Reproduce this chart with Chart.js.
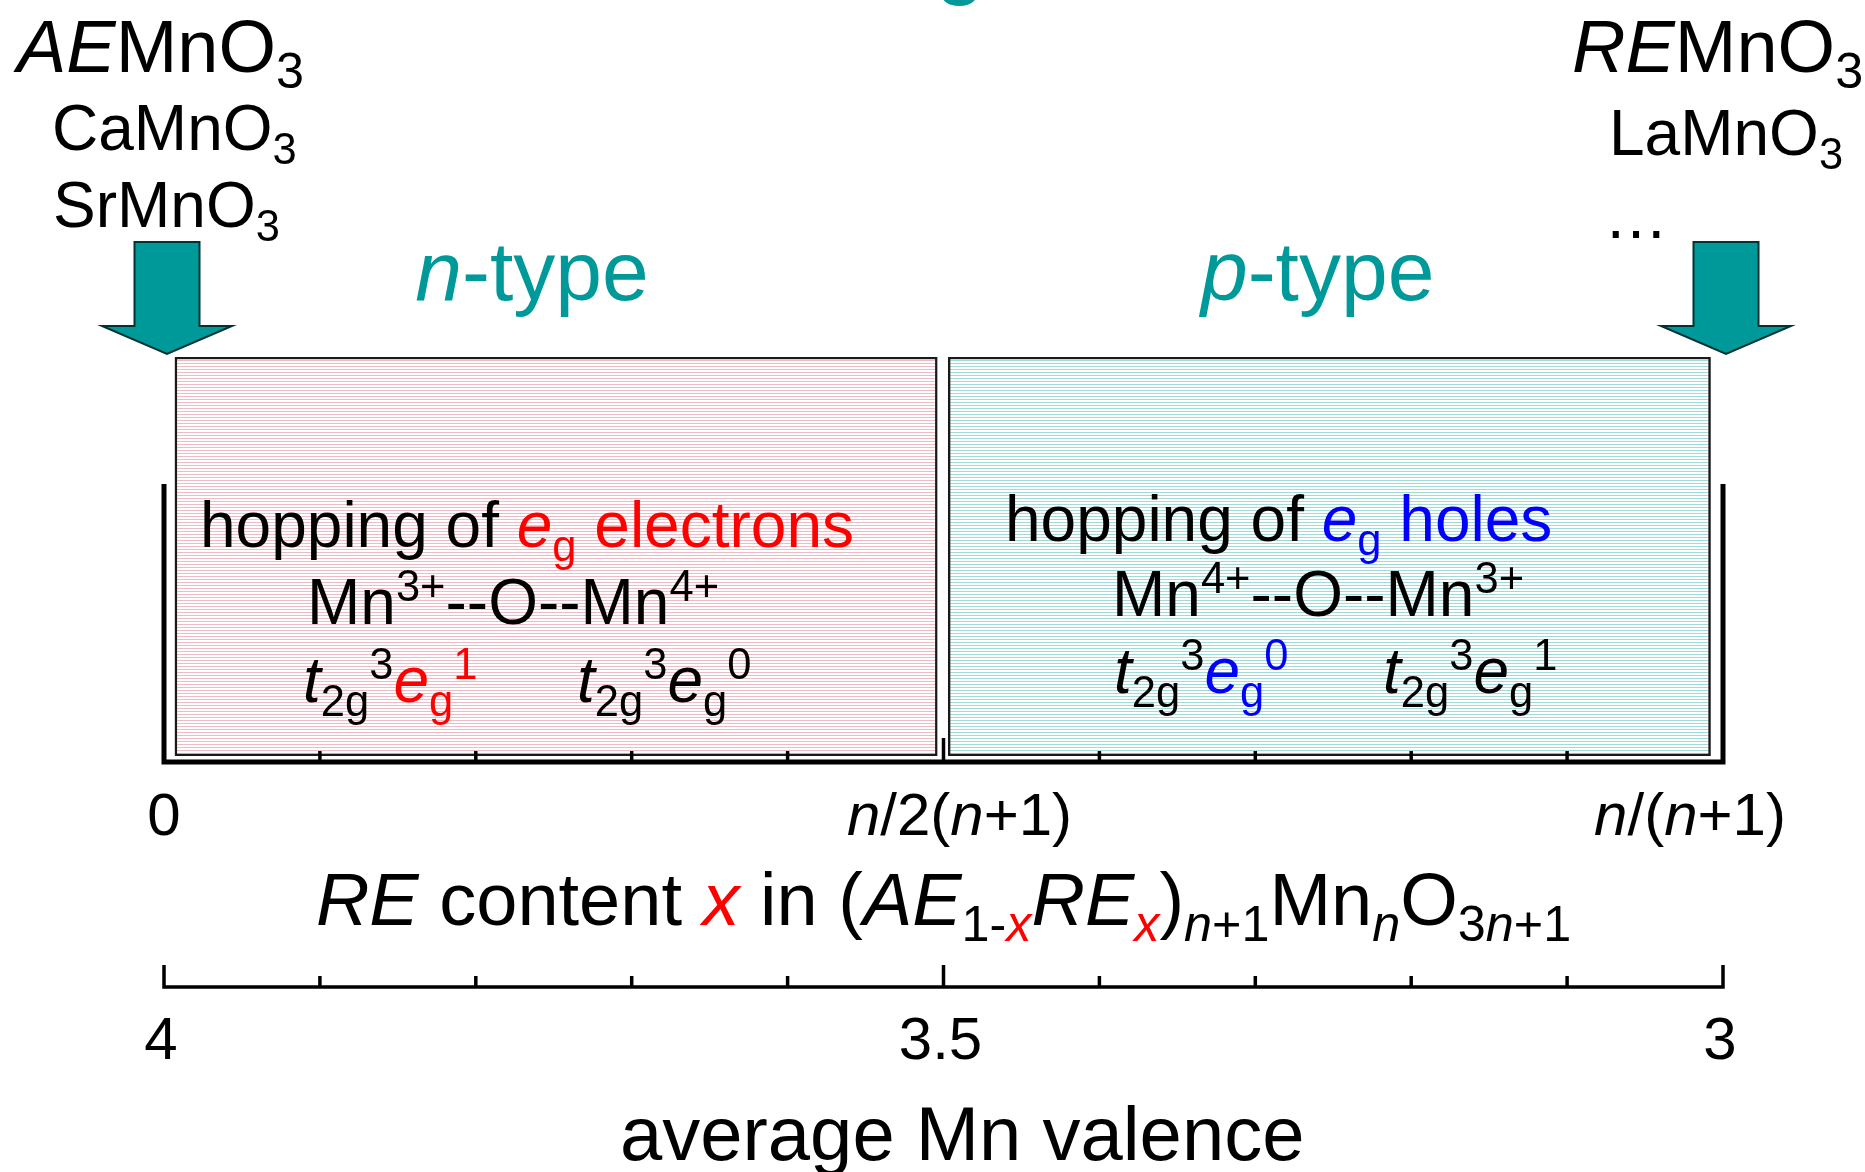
<!DOCTYPE html>
<html>
<head>
<meta charset="utf-8">
<script src="https://cdn.jsdelivr.net/npm/chart.js@4/dist/chart.umd.min.js"></script>
<style>
  html, body { margin: 0; padding: 0; background: #fff; }
  canvas { display: block; }
</style>
</head>
<body>
<canvas id="c" width="1865" height="1172" style="width:1865px;height:1172px"></canvas>
<script>
// ---------- data ----------
const regions = ['n-type', 'p-type'];
const regionStart = [0.007, 0.503];   // RE content x (fraction of n/(n+1))
const regionEnd = [0.496, 0.992];
const xTicks = [0, 0.1, 0.2, 0.3, 0.4, 0.5, 0.6, 0.7, 0.8, 0.9, 1];
const xMajorTicks = [0, 0.5, 1];
const xTickLabels = ['0', 'n/2(n+1)', 'n/(n+1)'];
const valenceTicks = [4, 3.9, 3.8, 3.7, 3.6, 3.5, 3.4, 3.3, 3.2, 3.1, 3];
const valenceMajor = [4, 3.5, 3];
const valenceLabels = ['4', '3.5', '3'];
const endMembers = ['AEMnO3', 'REMnO3'];
const endMemberX = [0, 1];

// ---------- styles ----------
const FAM = '"Liberation Sans", Arial, Helvetica, sans-serif';
const TEAL = '#009999';
const RED = '#ff0000';
const BLUE = '#0000ff';

const ctx0 = document.getElementById('c').getContext('2d');
function hatch(color) {
  const c = document.createElement('canvas');
  c.width = 4; c.height = 3;
  const g = c.getContext('2d');
  g.fillStyle = '#ffffff'; g.fillRect(0, 0, 4, 3);
  g.fillStyle = color; g.fillRect(0, 0, 4, 1);
  return ctx0.createPattern(c, 'repeat');
}
const fills = [hatch('#eebcc6'), hatch('#a2dada')];

// rich text: runs of {t, i (italic), c (color), v ('sub'|'sup')}
function drawRich(ctx, runs, x, y, size, align) {
  const items = runs.map(r => {
    const s = r.v ? size * 0.68 : size;
    const font = (r.i ? 'italic ' : '') + s + 'px ' + FAM;
    ctx.font = font;
    const w = ctx.measureText(r.t).width;
    const dy = r.v === 'sub' ? size * 0.22 : (r.v === 'sup' ? -size * 0.36 : 0);
    return { t: r.t, font, w, dy, c: r.c || '#000' };
  });
  const total = items.reduce((a, b) => a + b.w, 0);
  let cx = align === 'center' ? x - total / 2 : (align === 'right' ? x - total : x);
  ctx.textAlign = 'left';
  ctx.textBaseline = 'alphabetic';
  for (const it of items) {
    ctx.font = it.font;
    ctx.fillStyle = it.c;
    ctx.fillText(it.t, cx, y + it.dy);
    cx += it.w;
  }
}
const N = (t, c) => ({ t, c });
const I = (t, c) => ({ t, i: true, c });
const SUB = (t, c, i) => ({ t, v: 'sub', c, i });
const SUP = (t, c, i) => ({ t, v: 'sup', c, i });

const decor = {
  id: 'decor',
  afterDraw(chart) {
    const ctx = chart.ctx;
    const xs = chart.scales.x;
    const vs = chart.scales.v;
    ctx.save();

    // --- cut-off teal title glyph at top
    ctx.font = '90px ' + FAM; ctx.fillStyle = TEAL; ctx.textAlign = 'center';
    ctx.fillText('g', 960, -13);

    // --- end-member labels
    drawRich(ctx, [I('AE'), N('MnO'), SUB('3')], 17, 72, 74, 'left');
    drawRich(ctx, [N('CaMnO'), SUB('3')], 52, 150, 64, 'left');
    drawRich(ctx, [N('SrMnO'), SUB('3')], 53, 227, 64, 'left');
    drawRich(ctx, [I('RE'), N('MnO'), SUB('3')], 1572, 72, 74, 'left');
    drawRich(ctx, [N('LaMnO'), SUB('3')], 1609, 155, 64, 'left');
    drawRich(ctx, [N('\u2026')], 1604, 238, 64, 'left');

    // --- arrows pointing at the end members
    endMemberX.forEach(v => {
      const cx = xs.getPixelForValue(v) + 3;
      ctx.beginPath();
      ctx.moveTo(cx - 32.5, 242);
      ctx.lineTo(cx + 32.5, 242);
      ctx.lineTo(cx + 32.5, 326);
      ctx.lineTo(cx + 65, 326);
      ctx.lineTo(cx, 354);
      ctx.lineTo(cx - 65, 326);
      ctx.lineTo(cx - 32.5, 326);
      ctx.closePath();
      ctx.fillStyle = TEAL; ctx.fill();
      ctx.lineWidth = 2; ctx.strokeStyle = '#033'; ctx.stroke();
    });

    // --- n-type / p-type
    const regionLabelX = [0.236, 0.74];
    drawRich(ctx, [I('n', TEAL), N('-type', TEAL)], xs.getPixelForValue(regionLabelX[0]), 300, 84, 'center');
    drawRich(ctx, [I('p', TEAL), N('-type', TEAL)], xs.getPixelForValue(regionLabelX[1]), 300, 84, 'center');

    // --- text inside boxes
    const F = 64;
    drawRich(ctx, [N('hopping of '), I('e', RED), SUB('g', RED), N(' electrons', RED)], 200, 547, F, 'left');
    drawRich(ctx, [N('Mn'), SUP('3+'), N('--O--Mn'), SUP('4+')], 307, 624, F, 'left');
    drawRich(ctx, [I('t'), SUB('2g'), SUP('3'), I('e', RED), SUB('g', RED), SUP('1', RED)], 303, 702, F, 'left');
    drawRich(ctx, [I('t'), SUB('2g'), SUP('3'), I('e'), SUB('g'), SUP('0')], 577, 702, F, 'left');

    drawRich(ctx, [N('hopping of '), I('e', BLUE), SUB('g', BLUE), N(' holes', BLUE)], 1005, 541, F, 'left');
    drawRich(ctx, [N('Mn'), SUP('4+'), N('--O--Mn'), SUP('3+')], 1112, 616, F, 'left');
    drawRich(ctx, [I('t'), SUB('2g'), SUP('3'), I('e', BLUE), SUB('g', BLUE), SUP('0', BLUE)], 1114, 693, F, 'left');
    drawRich(ctx, [I('t'), SUB('2g'), SUP('3'), I('e'), SUB('g'), SUP('1')], 1383, 693, F, 'left');

    // --- top axis (RE content x)
    const x0 = xs.getPixelForValue(0), x1 = xs.getPixelForValue(1);
    const yA = 762;
    ctx.strokeStyle = '#000'; ctx.lineCap = 'butt';
    ctx.lineWidth = 5;
    ctx.beginPath();
    ctx.moveTo(x0, 484); ctx.lineTo(x0, yA); ctx.lineTo(x1, yA); ctx.lineTo(x1, 484);
    ctx.stroke();
    ctx.lineWidth = 3.5;
    xTicks.forEach(v => {
      const px = xs.getPixelForValue(v);
      if (v === 0 || v === 1) return;
      const len = xMajorTicks.includes(v) ? 24 : 11;
      ctx.beginPath(); ctx.moveTo(px, yA); ctx.lineTo(px, yA - len); ctx.stroke();
    });
    const labDx = [0, 16, -33];
    const topLab = [
      [N('0')],
      [I('n'), N('/2('), I('n'), N('+1)')],
      [I('n'), N('/('), I('n'), N('+1)')]
    ];
    xMajorTicks.forEach((v, k) => {
      drawRich(ctx, topLab[k], xs.getPixelForValue(v) + labDx[k], 835, 60, 'center');
    });

    // axis title
    drawRich(ctx, [
      I('RE'), N(' content '), I('x', RED), N(' in ('), I('AE'), SUB('1-'), SUB('x', RED, true),
      I('RE'), SUB('x', RED, true), N(')'), SUB('n', null, true), SUB('+1'),
      N('Mn'), SUB('n', null, true), N('O'), SUB('3'), SUB('n', null, true), SUB('+1')
    ], xs.getPixelForValue(0.5), 925, 74, 'center');

    // --- bottom axis (average Mn valence)
    const yB = 987;
    const v0 = vs.getPixelForValue(4), v1 = vs.getPixelForValue(3);
    ctx.lineWidth = 3.5;
    ctx.beginPath();
    ctx.moveTo(v0, yB - 22); ctx.lineTo(v0, yB); ctx.lineTo(v1, yB); ctx.lineTo(v1, yB - 22);
    ctx.stroke();
    valenceTicks.forEach(v => {
      if (v === 4 || v === 3) return;
      const px = vs.getPixelForValue(v);
      const len = valenceMajor.includes(v) ? 22 : 11;
      ctx.beginPath(); ctx.moveTo(px, yB); ctx.lineTo(px, yB - len); ctx.stroke();
    });
    valenceMajor.forEach((v, k) => {
      drawRich(ctx, [N(valenceLabels[k])], vs.getPixelForValue(v) - 3, 1059, 60, 'center');
    });
    drawRich(ctx, [N('average Mn valence')], xs.getPixelForValue(0.512), 1160, 76, 'center');

    ctx.restore();
  }
};

new Chart(document.getElementById('c'), {
  type: 'bar',
  data: {
    labels: ['doping'],
    datasets: regions.map((r, i) => ({
      label: r,
      data: [[regionStart[i], regionEnd[i]]],
      backgroundColor: fills[i],
      borderColor: '#1a1a1a',
      borderWidth: 2.5,
      borderSkipped: false
    }))
  },
  options: {
    indexAxis: 'y',
    responsive: false,
    devicePixelRatio: 1,
    animation: false,
    events: [],
    layout: { padding: { left: 164, right: 142, top: 357, bottom: 416 } },
    datasets: { bar: { grouped: false, categoryPercentage: 1, barPercentage: 1 } },
    scales: {
      x: { type: 'linear', min: 0, max: 1, display: false },
      v: { type: 'linear', axis: 'x', position: 'bottom', min: 3, max: 4, reverse: true, display: false },
      y: { type: 'category', display: false }
    },
    plugins: { legend: { display: false }, tooltip: { enabled: false } }
  },
  plugins: [decor]
});
</script>
</body>
</html>
